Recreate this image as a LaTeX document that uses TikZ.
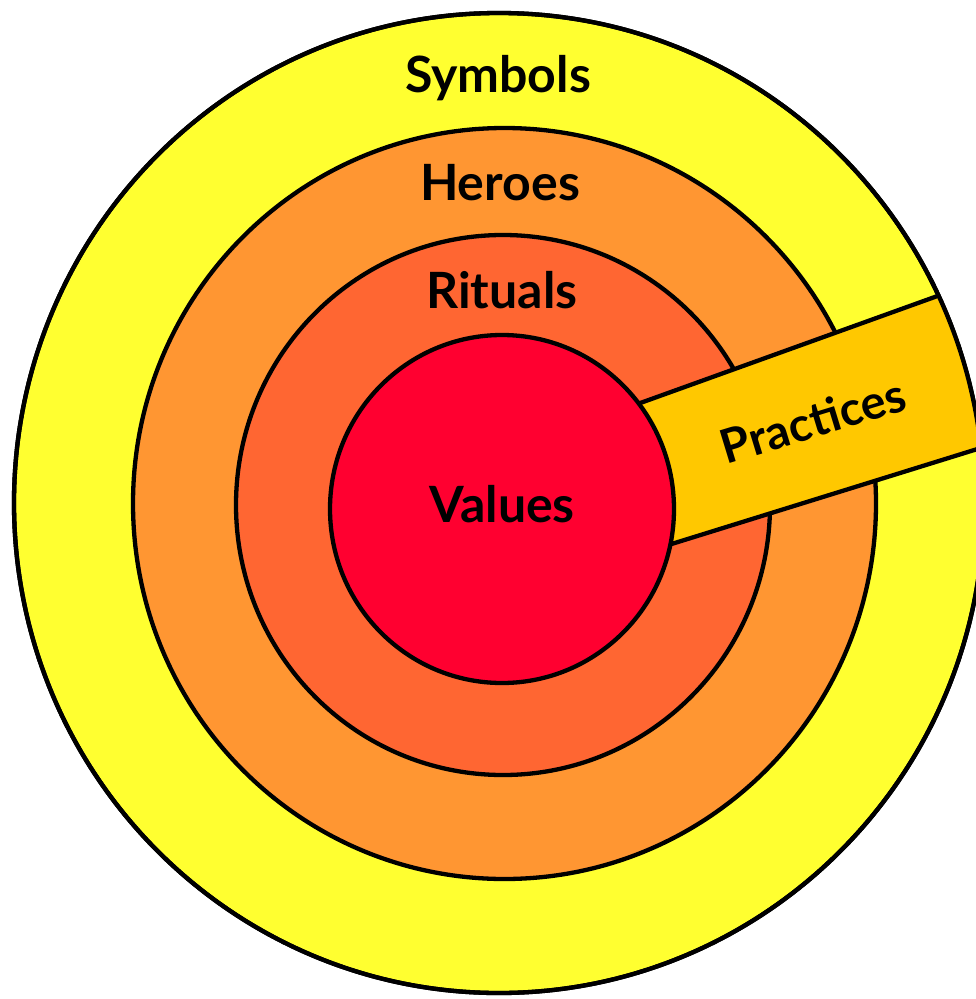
\documentclass[tikz,border=0pt]{standalone}
\usepackage{fontspec}
\setmainfont{Lato}
\definecolor{cSym}{RGB}{255,255,48}
\definecolor{cHer}{RGB}{255,150,50}
\definecolor{cRit}{RGB}{255,102,50}
\definecolor{cVal}{RGB}{255,0,48}
\definecolor{cPra}{RGB}{255,200,0}
\begin{document}
\begin{tikzpicture}[x=1pt,y=-1pt,
  ring/.style={draw=black,line width=4.3pt},
  edge/.style={draw=black,line width=4.3pt},
  lbl/.style={font=\fontsize{50}{60}\selectfont\bfseries, anchor=base, inner sep=0pt}]
\useasboundingbox (0,0) rectangle (975,999);
\fill[white] (0,0) rectangle (975,999);
% rings
\path[ring, fill=cSym] (499,503) ellipse [x radius=485pt, y radius=490pt];
\path[ring, fill=cHer] (504.5,503.5) ellipse [x radius=371.5pt, y radius=375.5pt];
\path[ring, fill=cRit] (503,505) ellipse [x radius=267pt, y radius=270pt];
% practices band
\begin{scope}
  \clip (499,503) ellipse [x radius=485pt, y radius=490pt];
  \coordinate (t1) at (600,417.5);
  \coordinate (t2) at (1000,273.5);
  \coordinate (b2) at (1000,442);
  \coordinate (b1) at (620,560);
  \fill[cPra] (t1) -- (t2) -- (b2) -- (b1) -- cycle;
  \draw[edge] (t1) -- (t2);
  \draw[edge] (b1) -- (b2);
\end{scope}
% values
\path[ring, fill=cVal] (502,509) ellipse [x radius=172pt, y radius=174pt];
\draw[ring] (499,503) ellipse [x radius=485pt, y radius=490pt];
% labels
\node[lbl] (sym) at (498,92) {Symbols};
\node[lbl] (her) at (500,200) {Heroes};
\node[lbl] (rit) at (502,308) {Rituals};
\node[lbl] (val) at (502,522) {Values};
\node[lbl, font=\fontsize{47}{56}\selectfont\bfseries, rotate=17] (pra) at (818,437) {Practices};
\end{tikzpicture}
\end{document}
